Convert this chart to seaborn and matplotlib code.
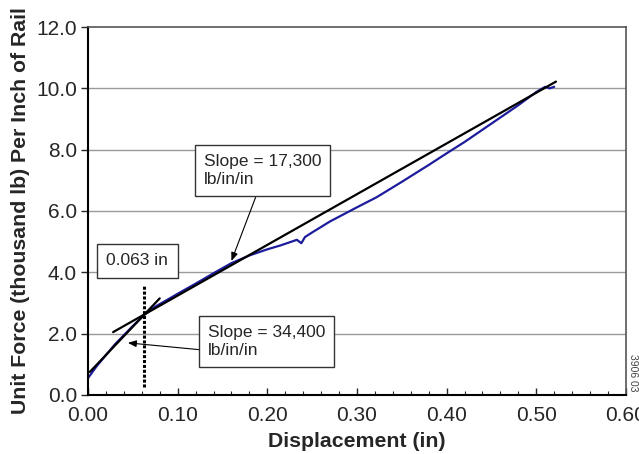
import matplotlib
matplotlib.use("Agg")
import matplotlib.pyplot as plt
import seaborn as sns
import pandas as pd
from matplotlib.ticker import MultipleLocator, FormatStrFormatter

# Measured load-displacement curve
disp = [0.000, 0.005, 0.010, 0.020, 0.030, 0.040, 0.050, 0.063, 0.075, 0.090,
        0.100, 0.120, 0.140, 0.160, 0.180, 0.200, 0.215, 0.233, 0.238, 0.242,
        0.250, 0.270, 0.300, 0.322, 0.350, 0.380, 0.400, 0.420, 0.450, 0.480,
        0.500, 0.510, 0.515, 0.520]
force = [0.55, 0.75, 0.95, 1.30, 1.65, 1.95, 2.25, 2.62, 2.88, 3.13,
         3.30, 3.63, 3.97, 4.30, 4.55, 4.75, 4.88, 5.06, 4.95, 5.15,
         5.30, 5.66, 6.12, 6.45, 6.95, 7.50, 7.88, 8.25, 8.85, 9.45,
         9.88, 10.05, 10.00, 10.05]

# Fitted slope lines (endpoints)
fit1_x = [0.028, 0.522]
fit1_y = [2.05, 10.22]
fit2_x = [0.002, 0.080]
fit2_y = [0.75, 3.15]

# Dotted marker line at 0.063 in
mark_x = [0.063, 0.063]
mark_y = [0.26, 3.60]

x_ticks = [0.0, 0.1, 0.2, 0.3, 0.4, 0.5, 0.6]
y_ticks = [0, 2, 4, 6, 8, 10, 12]

sns.set_style("white")
plt.rcParams['font.family'] = ['Liberation Sans', 'DejaVu Sans']

fig = plt.figure(figsize=(6.39, 4.54), dpi=100)
ax = fig.add_axes([0.1377, 0.130, 0.8418, 0.8105])

df = pd.DataFrame({"disp": disp, "force": force})
for yv in y_ticks[1:-1]:
    ax.axhline(yv, color="#9a9a9a", lw=1.0, zorder=0)

sns.lineplot(data=df, x="disp", y="force", ax=ax, color="#1c1c9c", lw=1.6,
             sort=False, estimator=None, zorder=2)
ax.plot(fit1_x, fit1_y, color="black", lw=1.6, zorder=3)
ax.plot(fit2_x, fit2_y, color="black", lw=1.6, zorder=3)
ax.plot(mark_x, mark_y, color="black", lw=2.2, ls=(0, (1, 0.6)), zorder=3)

ax.set_xlim(0, 0.6)
ax.set_ylim(0, 12)
ax.set_xticks(x_ticks)
ax.set_yticks(y_ticks)
ax.xaxis.set_major_formatter(FormatStrFormatter("%.2f"))
ax.yaxis.set_major_formatter(FormatStrFormatter("%.1f"))
ax.xaxis.set_minor_locator(MultipleLocator(0.02))
ax.tick_params(axis="x", which="major", direction="in", length=5, width=1,
               labelsize=15, pad=8, bottom=True)
ax.tick_params(axis="x", which="minor", direction="in", length=3, width=0.8,
               bottom=True)
ax.tick_params(axis="y", which="major", direction="out", length=5, width=1,
               labelsize=15, pad=3, left=True)

for s in ["left", "bottom"]:
    ax.spines[s].set_color("black")
    ax.spines[s].set_linewidth(1.5)
for s in ["top", "right"]:
    ax.spines[s].set_color("#555555")
    ax.spines[s].set_linewidth(1.2)

ax.set_xlabel("Displacement (in)", fontsize=15.3, fontweight="bold", labelpad=5)
ax.set_ylabel("Unit Force (thousand lb) Per Inch of Rail", fontsize=15.3,
              fontweight="bold", labelpad=4)

box = dict(boxstyle="square,pad=0.55", fc="white", ec="#333333", lw=1.0)
box2 = dict(boxstyle="square,pad=0.5", fc="white", ec="#333333", lw=1.0)
arrow = dict(arrowstyle="-|>,head_length=0.5,head_width=0.2", color="black",
             lw=0.8, shrinkA=0, shrinkB=0)

ax.text(0.0551, 4.37, "0.063 in", fontsize=12.5, ha="center", va="center",
        bbox=box, zorder=5)

ax.annotate("", xy=(0.160, 4.37), xytext=(0.187, 6.45), arrowprops=arrow, zorder=4)
ax.text(0.129, 7.32, "Slope = 17,300\nlb/in/in", fontsize=12.5, ha="left",
        va="center", linespacing=1.3, bbox=box2, zorder=5)

ax.annotate("", xy=(0.0445, 1.70), xytext=(0.127, 1.47), arrowprops=arrow, zorder=4)
ax.text(0.1335, 1.745, "Slope = 34,400\nlb/in/in", fontsize=12.5, ha="left",
        va="center", linespacing=1.3, bbox=box2, zorder=5)

fig.text(0.991, 0.18, "3906 03", fontsize=7.5, rotation=-90, ha="center",
         va="center", color="#444444")

fig.savefig("out.png", dpi=100)
